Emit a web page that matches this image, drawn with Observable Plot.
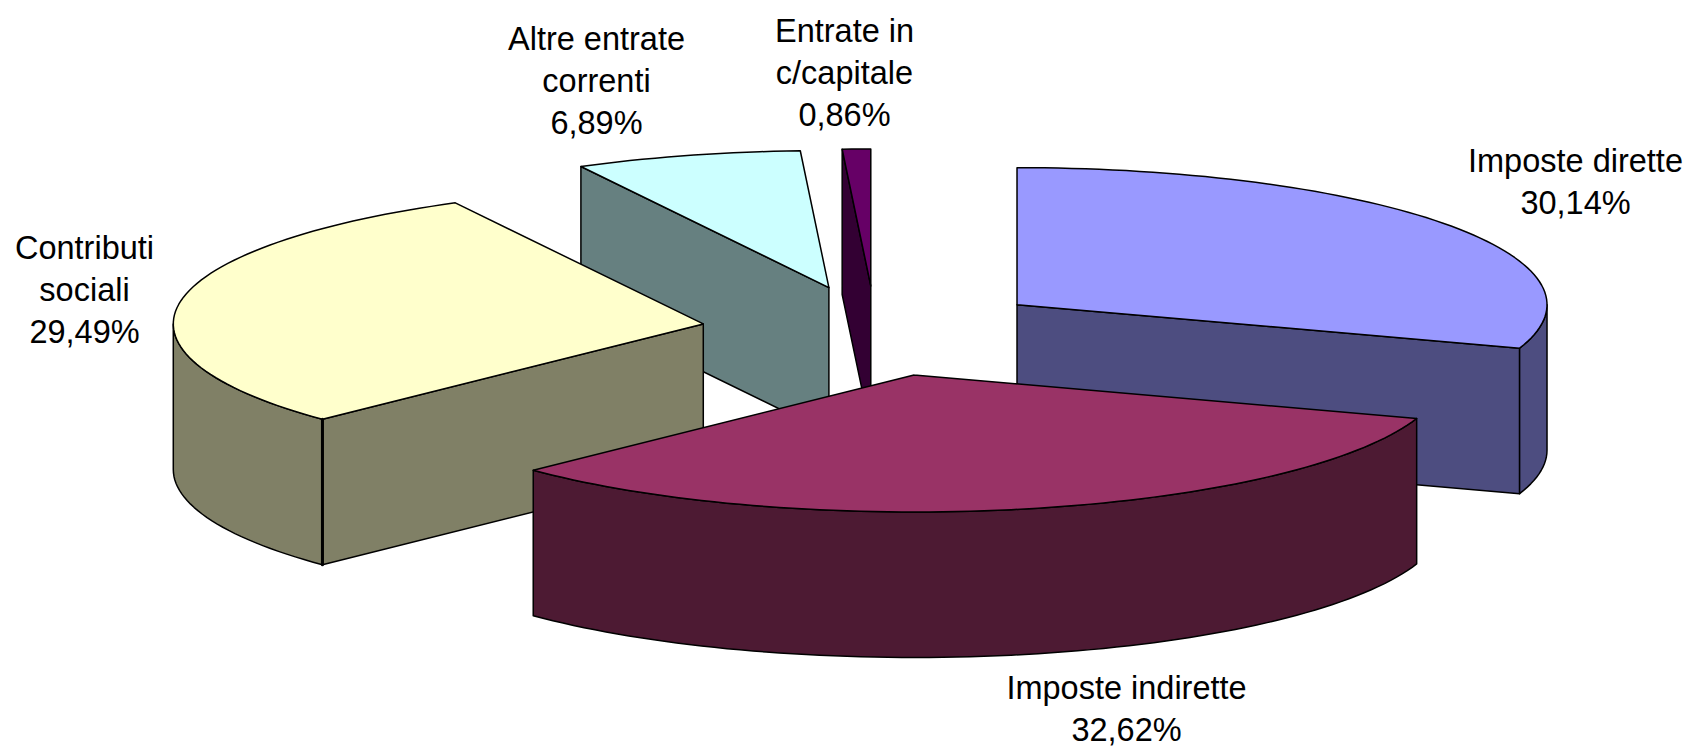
<!DOCTYPE html>
<html>
<head>
<meta charset="utf-8">
<style>html,body{margin:0;padding:0;background:#fff}svg{display:block}</style>
<script src="https://cdn.jsdelivr.net/npm/d3@7"></script>
<script src="https://cdn.jsdelivr.net/npm/@observablehq/plot@0.6"></script>
</head>
<body>
<div id="chart"></div>
<script>
const categories = ["Imposte dirette","Imposte indirette","Contributi sociali","Altre entrate correnti","Entrate in c/capitale"];
const shares = [30.14,32.62,29.49,6.89,0.86];
const labelLines = [["Imposte dirette","30,14%"],["Imposte indirette","32,62%"],["Contributi","sociali","29,49%"],["Altre entrate","correnti","6,89%"],["Entrate in","c/capitale","0,86%"]];
const topColors = ["#9999FF","#993366","#FFFFCC","#CCFFFF","#660066"];
const sideColors = ["#4D4D80","#4D1A33","#808066","#668080","#330033"];
const drawOrder = [3,4,0,2,1];

// layout (page pixels)
const W=1690,H=748,cx=875,cy=330.5,rx=530,ry=137,depthPx=145.5,explode=0.329;
const labelCentres=[[1575,179],[1126,706],[84,287.5],[596,78],[844,70.5]];
const FONT_SIZE=32.5, LINE=42;

const depth=depthPx/ry, rad=Math.PI/180;
const xRange=[cx-rx,cx+rx], yRange=[cy-ry,cy+ry];
const invX=d3.scaleLinear().domain(xRange).range([-1,1]);
const invY=d3.scaleLinear().domain(yRange).range([-1,1]);

let acc=0;
const slices=shares.map((s,i)=>{
  const a0=acc; acc+=s*3.6; const a1=acc, mid=(a0+a1)/2;
  const ox=explode*Math.sin(mid*rad), oy=-explode*Math.cos(mid*rad);
  const pt=(a,z=0)=>({x:ox+Math.sin(a*rad),y:oy-Math.cos(a*rad)+z});
  const apex=(z=0)=>({x:ox,y:oy+z});
  const arc=(f,t,z=0)=>{const n=Math.max(2,Math.ceil((t-f)/1.5));return d3.range(n+1).map(k=>pt(f+(t-f)*k/n,z));};
  return {i,a0,a1,pt,apex,arc};
});

const marks=[];
const poly=(points,fill,sw=1.5)=>marks.push(Plot.line([...points,points[0]],{x:"x",y:"y",fill,stroke:"#000",strokeWidth:sw,strokeLinejoin:"round"}));
for(const i of drawOrder){
  const s=slices[i], side=sideColors[i], top=topColors[i];
  if(Math.sin(s.a0*rad)<-1e-9) poly([s.apex(),s.pt(s.a0),s.pt(s.a0,depth),s.apex(depth)],side);
  if(Math.sin(s.a1*rad)>1e-9) poly([s.apex(),s.pt(s.a1),s.pt(s.a1,depth),s.apex(depth)],side);
  const f=Math.max(s.a0,90), t=Math.min(s.a1,270);
  if(t>f) poly([...s.arc(f,t),...s.arc(f,t,depth).reverse()],side);
  poly([s.apex(),...s.arc(s.a0,s.a1)],top);
}
// heavier front corner of the "Contributi sociali" slice
{const s=slices[2]; marks.push(Plot.line([s.pt(s.a0),s.pt(s.a0,depth)],{x:"x",y:"y",stroke:"#000",strokeWidth:3}));}

const labels=categories.map((c,i)=>({text:labelLines[i].join("\n"),x:invX(labelCentres[i][0]),y:invY(labelCentres[i][1])}));
marks.push(Plot.text(labels,{x:"x",y:"y",text:"text",textAnchor:"middle",lineAnchor:"middle",lineHeight:LINE/FONT_SIZE,fontSize:FONT_SIZE,fill:"#000",fontFamily:"'Liberation Sans',Arial,sans-serif"}));

document.getElementById("chart").append(Plot.plot({
  width:W,height:H,margin:0,
  style:{background:"#fff",overflow:"visible"},
  x:{axis:null,domain:[-1,1],range:xRange},
  y:{axis:null,domain:[-1,1],range:yRange},
  marks
}));
</script>
</body>
</html>
